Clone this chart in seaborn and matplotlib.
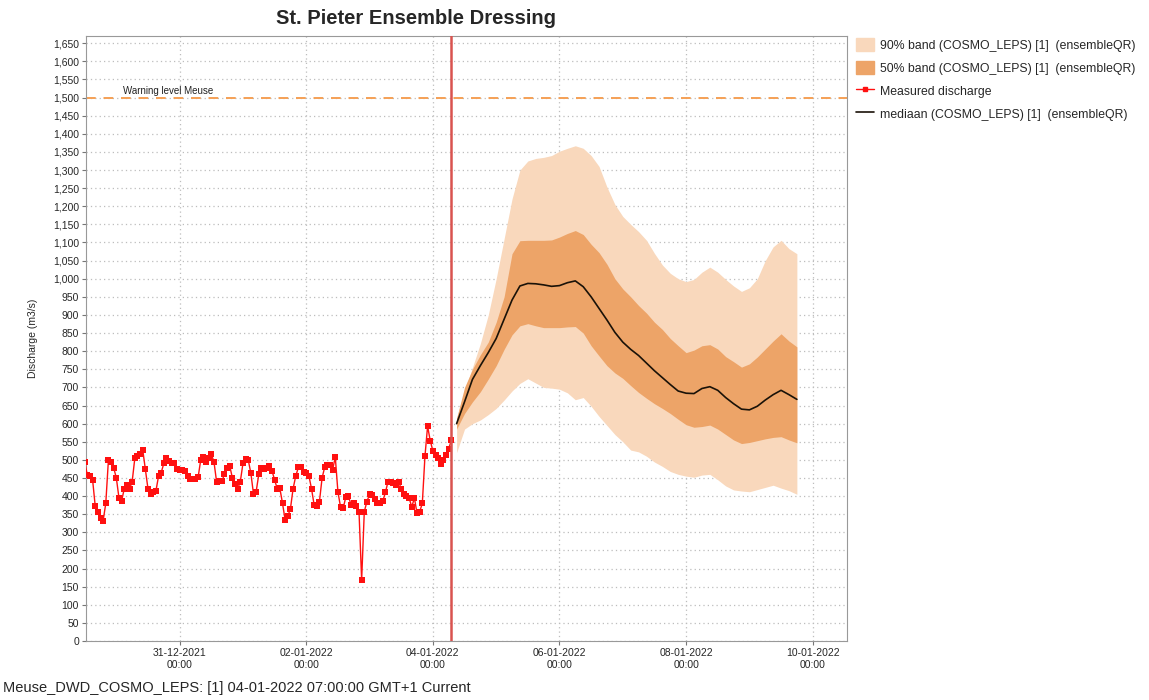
import pandas as pd
import numpy as np
import matplotlib
matplotlib.use('Agg')
import matplotlib.pyplot as plt
import matplotlib.dates as mdates
from matplotlib.ticker import FuncFormatter, MultipleLocator
from matplotlib.patches import Patch
from matplotlib.lines import Line2D
import seaborn as sns

# measured discharge, hourly from 29-12-2021 12:00 to 04-01-2022 07:00
measured = [495, 458, 456, 445, 372, 357, 340, 332, 380, 500, 495, 478, 450, 395, 387,
            420, 430, 420, 440, 504, 510, 516, 528, 475, 420, 407, 412, 414, 455, 465,
            490, 505, 497, 492, 490, 474, 472, 471, 468, 455, 446, 446, 446, 452, 500,
            508, 495, 505, 515, 495, 440, 443, 441, 460, 478, 483, 450, 432, 420, 440,
            490, 502, 500, 463, 406, 412, 460, 478, 474, 478, 482, 470, 445, 420, 421,
            380, 334, 345, 365, 420, 455, 479, 479, 467, 463, 456, 420, 375, 372, 385,
            450, 480, 485, 485, 473, 508, 412, 370, 366, 398, 400, 375, 380, 373, 357,
            168, 357, 385, 405, 402, 392, 382, 381, 386, 410, 440, 440, 435, 430, 440,
            420, 405, 400, 395, 370, 395, 352, 357, 380, 510, 593, 553, 525, 513, 504,
            488, 501, 513, 531, 554]
meas_time = pd.date_range('2021-12-29 12:00', periods=len(measured), freq='h')

# forecast (COSMO_LEPS, ensembleQR), 3-hourly from 04-01-2022 09:00
median = [600, 660, 722, 760, 796, 835, 888, 941, 980, 987, 986, 983, 979, 981, 989,
          994, 978, 950, 918, 886, 852, 825, 805, 788, 767, 746, 727, 708, 690, 684,
          683, 697, 702, 692, 672, 655, 640, 638, 648, 665, 680, 692, 680, 667]
q50_hi = [615, 700, 750, 790, 825, 880, 950, 1069, 1105, 1106, 1106, 1106, 1107, 1115,
          1125, 1133, 1122, 1095, 1072, 1040, 1000, 972, 950, 926, 905, 880, 860, 835,
          815, 796, 803, 815, 818, 806, 785, 771, 756, 765, 784, 806, 828, 848, 828, 812]
q50_lo = [585, 628, 660, 688, 723, 760, 805, 845, 870, 876, 870, 865, 865, 865, 867,
          868, 850, 815, 787, 760, 740, 725, 705, 686, 670, 655, 642, 628, 612, 597,
          590, 592, 596, 585, 570, 555, 545, 548, 553, 558, 562, 564, 555, 547]
q90_hi = [615, 690, 755, 821, 900, 1000, 1110, 1220, 1300, 1325, 1332, 1335, 1340, 1352,
          1360, 1367, 1360, 1340, 1310, 1253, 1205, 1172, 1150, 1130, 1106, 1070, 1038,
          1015, 1000, 992, 998, 1018, 1032, 1018, 998, 980, 965, 975, 1000, 1050, 1088,
          1106, 1083, 1069]
q90_lo = [520, 585, 600, 610, 625, 642, 665, 690, 711, 724, 712, 700, 698, 695, 685,
          666, 672, 648, 620, 595, 570, 550, 527, 522, 510, 494, 482, 468, 460, 455,
          452, 458, 460, 445, 428, 417, 414, 412, 418, 424, 430, 422, 415, 405]
fc_time = pd.date_range('2022-01-04 09:00', periods=len(median), freq='3h')

warning_level = 1500
t0 = pd.Timestamp('2022-01-04 07:00')

c90 = '#f9d8bc'
c50 = '#eda468'
red = '#ff1010'

sns.set_style('white')
plt.rcParams['font.family'] = ['Liberation Sans', 'DejaVu Sans']

fig = plt.figure(figsize=(11.49, 7.0), dpi=100)
ax = fig.add_axes([86 / 1149, 1 - 641 / 700, (847 - 86) / 1149, (641 - 36) / 700])

ax.fill_between(fc_time, q90_lo, q90_hi, color=c90, linewidth=0, zorder=1)
ax.fill_between(fc_time, q50_lo, q50_hi, color=c50, linewidth=0, zorder=2)
sns.lineplot(x=fc_time, y=median, ax=ax, color='#1a1208', linewidth=1.2, zorder=3)
sns.lineplot(x=meas_time, y=measured, ax=ax, color=red, linewidth=1.0,
             marker='s', markersize=4, markeredgewidth=0, zorder=4)

ax.axhline(warning_level, color='#f5a055', linestyle=(0, (5, 4)), linewidth=1.4, zorder=2)
ax.text(pd.Timestamp('2021-12-30 02:30'), warning_level + 4, 'Warning level Meuse',
        fontsize=7, va='bottom', ha='left', color='#222222')
ax.axvline(t0, color='#d9534f', linewidth=1.8, zorder=5)

ax.set_xlim(pd.Timestamp('2021-12-29 12:30'), pd.Timestamp('2022-01-10 13:00'))
ax.set_ylim(0, 1670)
ax.yaxis.set_major_locator(MultipleLocator(50))
ax.yaxis.set_major_formatter(FuncFormatter(lambda v, p: f'{int(v):,}'))
ax.set_xticks(pd.date_range('2021-12-31', '2022-01-10', freq='2D'))
ax.xaxis.set_major_formatter(mdates.DateFormatter('%d-%m-%Y\n%H:%M'))
ax.tick_params(axis='both', labelsize=7.5, length=3, direction='out', color='#777777',
               left=True, bottom=True, pad=2)
ax.grid(True, color='#bdbdbd', linestyle=(0, (1, 2.5)), linewidth=0.9)
for s in ax.spines.values():
    s.set_color('#999999')
ax.set_xlabel('')
ax.set_ylabel('Discharge (m3/s)', fontsize=7.5, labelpad=11)

fig.text(416 / 1149, 1 - 18 / 700, 'St. Pieter Ensemble Dressing', fontsize=14.5,
         fontweight='bold', ha='center', va='center')
fig.text(3 / 1149, 1 - 688 / 700, 'Meuse_DWD_COSMO_LEPS: [1] 04-01-2022 07:00:00 GMT+1 Current',
         fontsize=10.5, ha='left', va='center')

handles = [Patch(color=c90), Patch(color=c50),
           Line2D([], [], color=red, marker='s', markersize=3.5, linewidth=1),
           Line2D([], [], color='#1a1208', linewidth=1.2)]
labels = ['90% band (COSMO_LEPS) [1]  (ensembleQR)',
          '50% band (COSMO_LEPS) [1]  (ensembleQR)',
          'Measured discharge',
          'mediaan (COSMO_LEPS) [1]  (ensembleQR)']
fig.legend(handles, labels, loc='upper left', bbox_to_anchor=(856 / 1149, 1 - 38 / 700),
           frameon=False, fontsize=8.8, handlelength=1.5, handleheight=1.3,
           handletextpad=0.5, labelspacing=0.75, borderaxespad=0, borderpad=0)

fig.savefig('out.png', dpi=100)
